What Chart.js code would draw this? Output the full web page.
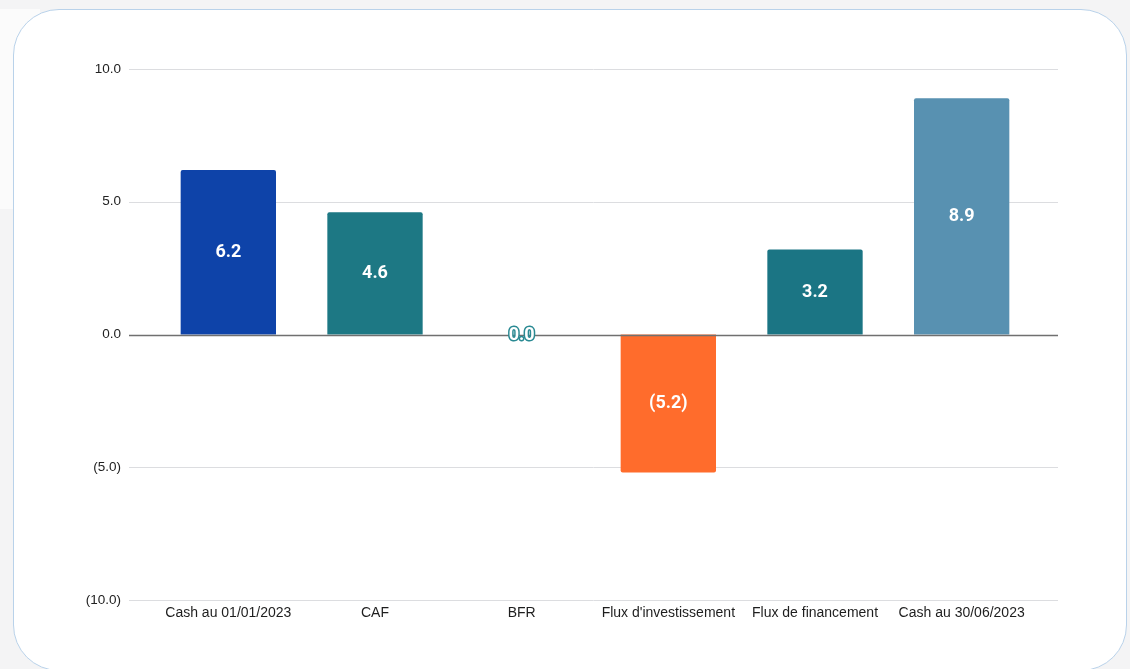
<!DOCTYPE html>
<html>
<head>
<meta charset="utf-8">
<script src="https://cdn.jsdelivr.net/npm/chart.js@4/dist/chart.umd.min.js"></script>
<style>
  html, body { margin: 0; padding: 0; }
  body { width: 1130px; height: 669px; background: #f4f4f5; position: relative; overflow: hidden; }
  #leftTop { position: absolute; left: 0; top: 9px; width: 40px; height: 200px; background: #fbfbfb; }
  #card { position: absolute; left: 13px; top: 9px; width: 1114px; height: 662px; background: #fff;
          border: 1.5px solid #b9d2ea; border-radius: 46px; box-sizing: border-box; }
  #wrap { position: absolute; left: 0; top: 0; width: 1130px; height: 669px; }
</style>
</head>
<body>
<div id="leftTop"></div>
<div id="card"></div>
<div id="wrap"><canvas id="chart" width="1130" height="669"></canvas></div>
<script>
var categories = ["Cash au 01/01/2023", "CAF", "BFR", "Flux d'investissement", "Flux de financement", "Cash au 30/06/2023"];
var values = [6.2, 4.6, 0.0, -5.2, 3.2, 8.9];
var barColors = ["#0e43a9", "#1d7884", "#1d7884", "#ff6c2c", "#1b7584", "#5891b1"];
var yTicks = [-10, -5, 0, 5, 10];

function fmt(v) {
	var s = Math.abs(v).toFixed(1);
	return v < 0 ? "(" + s + ")" : s;
}

// horizontal grid lines, wider than the category band
var gridPlugin = {
	id: "gridLines",
	beforeDatasetsDraw: function(chart) {
		var ctx = chart.ctx;
		var y = chart.scales.y;
		var left = chart.chartArea.left - 26;
		var right = chart.chartArea.right + 23;
		ctx.save();
		for (var i = 0; i < yTicks.length; i++) {
			var py = Math.round(y.getPixelForValue(yTicks[i])) + 0.5;
			ctx.beginPath();
			ctx.moveTo(left, py);
			ctx.lineTo(right, py);
			ctx.lineWidth = 1;
			ctx.strokeStyle = "#dcdde0";
			ctx.stroke();
		}
		ctx.restore();
	},
	afterDatasetsDraw: function(chart) {
		var ctx = chart.ctx;
		var y = chart.scales.y;
		var py = Math.round(y.getPixelForValue(0)) + 0.5;
		ctx.save();
		ctx.beginPath();
		ctx.moveTo(chart.chartArea.left - 26, py);
		ctx.lineTo(chart.chartArea.right + 23, py);
		ctx.lineWidth = 1.3;
		ctx.strokeStyle = "#707070";
		ctx.stroke();

		// value labels
		var meta = chart.getDatasetMeta(0);
		ctx.font = "bold 18px Roboto, 'Liberation Sans', Arial";
		ctx.textAlign = "center";
		ctx.textBaseline = "middle";
		meta.data.forEach(function(bar, i) {
			var v = values[i];
			var cy = (bar.y + bar.base) / 2;
			if (v === 0) {
				ctx.lineWidth = 3;
				ctx.strokeStyle = "#2a8a93";
				ctx.lineJoin = "round";
				ctx.strokeText(fmt(v), bar.x, cy + 1);
				ctx.fillStyle = "#ffffff";
				ctx.fillText(fmt(v), bar.x, cy + 1);
			} else {
				ctx.fillStyle = "#ffffff";
				ctx.fillText(fmt(v), bar.x, cy);
			}
		});
		ctx.restore();
	}
};

var ctx = document.getElementById("chart");
var myChart = new Chart(ctx, {
	type: "bar",
	data: {
		labels: categories,
		datasets: [{
			data: values,
			backgroundColor: barColors,
			borderRadius: 2,
			borderSkipped: "start",
			barPercentage: 0.65,
			categoryPercentage: 1.0
		}]
	},
	options: {
		responsive: false,
		animation: false,
		devicePixelRatio: 1,
		layout: { padding: { left: 65, right: 95, top: 69, bottom: 39 } },
		plugins: { legend: { display: false }, tooltip: { enabled: false } },
		scales: {
			x: {
				grid: { display: false, drawTicks: false },
				border: { display: false },
				afterFit: function(s) { s.height = 30; },
				ticks: {
					padding: 5,
					maxRotation: 0,
					autoSkip: false,
					color: "#1e1e1e",
					font: { family: "'Liberation Sans', Arial", size: 14 }
				}
			},
			y: {
				min: -10,
				max: 10,
				afterFit: function(s) { s.width = 90; },
				grid: { display: false, drawTicks: false },
				border: { display: false },
				ticks: {
					stepSize: 5,
					padding: 34,
					color: "#222",
					font: { family: "'Liberation Sans', Arial", size: 13.5 },
					callback: function(v) { return fmt(v); }
				}
			}
		}
	},
	plugins: [gridPlugin]
});
</script>
</body>
</html>
